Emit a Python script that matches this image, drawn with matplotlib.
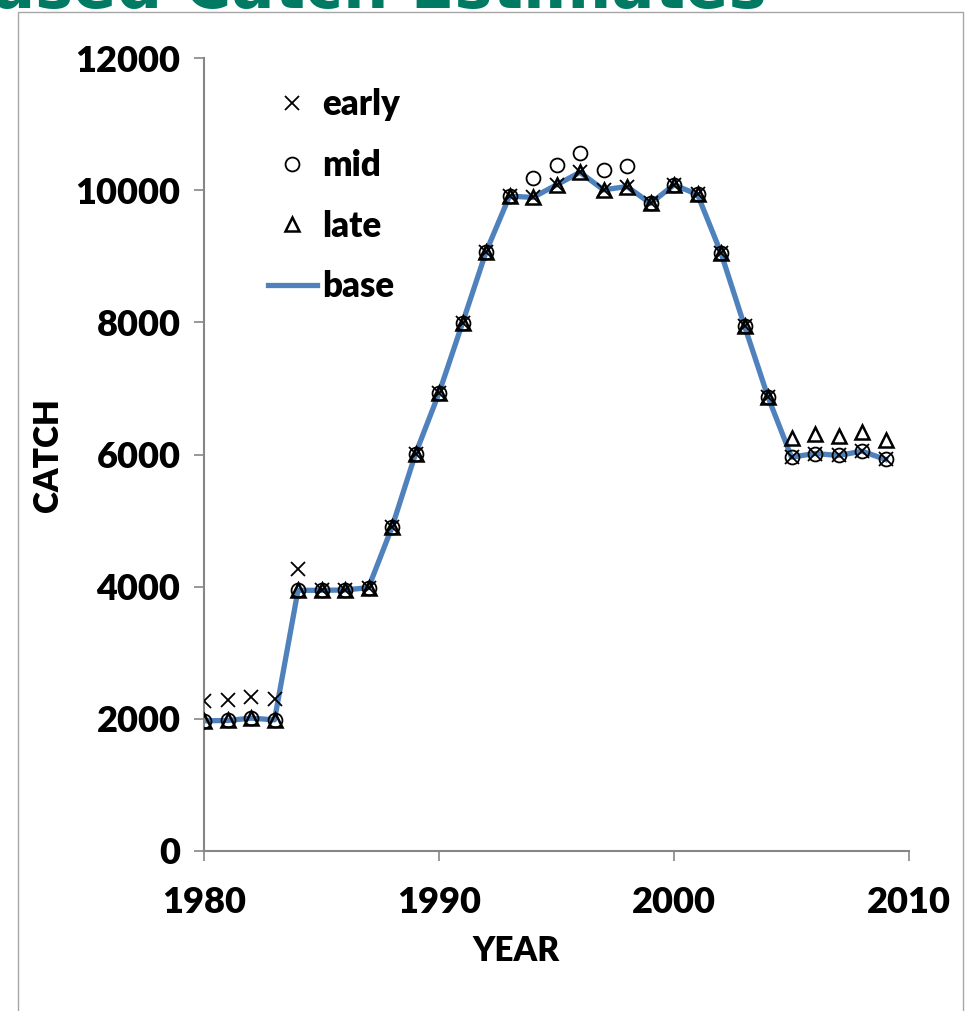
import matplotlib
matplotlib.use("Agg")
import matplotlib.pyplot as plt
from matplotlib.patches import Rectangle

years = [1980, 1981, 1982, 1983, 1984, 1985, 1986, 1987, 1988, 1989,
         1990, 1991, 1992, 1993, 1994, 1995, 1996, 1997, 1998, 1999,
         2000, 2001, 2002, 2003, 2004, 2005, 2006, 2007, 2008, 2009]

base = [1970, 1975, 2010, 1985, 3945, 3945, 3950, 3985, 4900, 6010,
        6930, 7990, 9065, 9910, 9890, 10080, 10270, 10005, 10055, 9800,
        10080, 9935, 9050, 7945, 6870, 5960, 6015, 5985, 6050, 5925]

early = [2270, 2285, 2330, 2300, 4265, 3945, 3950, 3985, 4900, 6010,
         6930, 7990, 9065, 9910, 9890, 10080, 10270, 10005, 10055, 9800,
         10080, 9935, 9050, 7945, 6870, 5960, 6015, 5985, 6050, 5925]

mid = [1970, 1975, 2010, 1985, 3945, 3945, 3950, 3985, 4900, 6010,
       6930, 7990, 9065, 9910, 10180, 10375, 10560, 10305, 10360, 9800,
       10080, 9935, 9050, 7945, 6870, 5960, 6015, 5985, 6050, 5925]

late = [1970, 1975, 2010, 1985, 3945, 3945, 3950, 3985, 4900, 6010,
        6930, 7990, 9065, 9910, 9890, 10080, 10270, 10005, 10055, 9800,
        10080, 9935, 9050, 7945, 6870, 6250, 6310, 6280, 6340, 6220]

x_ticks = [1980, 1990, 2000, 2010]
y_ticks = [0, 2000, 4000, 6000, 8000, 10000, 12000]

plt.rcParams['font.family'] = ['Lato', 'DejaVu Sans']
plt.rcParams['font.weight'] = 'heavy'

W, H = 967, 1011
fig = plt.figure(figsize=(W / 100, H / 100), dpi=100)

# outer box
fig.patches.append(Rectangle((18 / W, -0.05), (963 - 18) / W, 1.05 - 12 / H,
                             transform=fig.transFigure, fill=False,
                             edgecolor='#a6a6a6', linewidth=1.0))

# cut-off title
fig.text(-8 / W, 1 - 8 / H, "ased Catch Estimates", color='#007A63',
         fontsize=46, fontweight='bold', family='DejaVu Sans',
         ha='left', va='baseline')

ax = fig.add_axes([204 / W, 1 - 851 / H, 705 / W, 793 / H])
ax.set_facecolor('none')

ax.plot(years, base, color='#4F81BD', linewidth=3.8, label='base', zorder=2)
ax.plot(years, early, linestyle='none', marker='x', markersize=9.5,
        markeredgewidth=1.3, color='black', label='early', zorder=3)
ax.plot(years, mid, linestyle='none', marker='o', markersize=10,
        markeredgewidth=1.3, markerfacecolor='none', markeredgecolor='black',
        label='mid', zorder=3)
ax.plot(years, late, linestyle='none', marker='^', markersize=9.5,
        markeredgewidth=1.8, markerfacecolor='none', markeredgecolor='black',
        label='late', zorder=3)

ax.set_xlim(1980, 2010)
ax.set_ylim(0, 12000)
ax.set_xticks(x_ticks)
ax.set_yticks(y_ticks)
for s in ['top', 'right']:
    ax.spines[s].set_visible(False)
for s in ['left', 'bottom']:
    ax.spines[s].set_color('#868686')
    ax.spines[s].set_linewidth(1.5)
ax.tick_params(axis='both', colors='#868686', labelcolor='black',
               labelsize=26, length=7, width=1.2, direction='out')
ax.tick_params(axis='x', pad=18)
ax.tick_params(axis='y', pad=10)
for lab in ax.get_xticklabels() + ax.get_yticklabels():
    lab.set_fontweight('heavy')

ax.set_xlabel('YEAR', fontsize=24, fontweight='heavy')
ax.set_ylabel('CATCH', fontsize=24, fontweight='heavy')
ax.xaxis.set_label_coords((516 - 204) / 705, (851 - 951) / 793)
ax.xaxis.label.set_va('center')
ax.yaxis.set_label_coords((48 - 204) / 705, (851 - 455) / 793)
ax.yaxis.label.set_va('center')

handles, labels = ax.get_legend_handles_labels()
order = [1, 2, 3, 0]
leg = ax.legend([handles[i] for i in order], [labels[i] for i in order],
                loc='upper left', bbox_to_anchor=(268 / W, 1 - 88 / H),
                bbox_transform=fig.transFigure, frameon=False,
                fontsize=25, handlelength=1.4, handletextpad=0.15,
                labelspacing=0.8, borderpad=0, borderaxespad=0)
for t in leg.get_texts():
    t.set_fontweight('heavy')

fig.savefig('out.png', dpi=100)
